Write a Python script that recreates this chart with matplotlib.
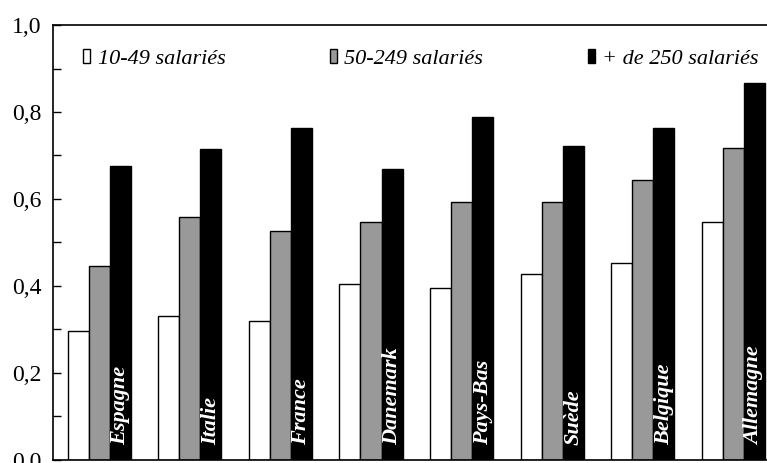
import matplotlib
matplotlib.use("Agg")
import matplotlib.pyplot as plt
import numpy as np
from matplotlib.ticker import MultipleLocator, FuncFormatter

# Data
pays = ['Espagne', 'Italie', 'France', 'Danemark', 'Pays-Bas', 'Suède', 'Belgique', 'Allemagne']
petites = [0.297, 0.332, 0.320, 0.405, 0.395, 0.427, 0.452, 0.548]
moyennes = [0.446, 0.559, 0.527, 0.546, 0.594, 0.594, 0.644, 0.717]
grandes = [0.677, 0.714, 0.764, 0.668, 0.789, 0.722, 0.763, 0.867]
labels = ['10-49 salariés', '50-249 salariés', '+ de 250 salariés']
colors = ['white', '#999999', 'black']

plt.rcParams['font.family'] = ['Liberation Serif', 'DejaVu Serif']

fig = plt.figure(figsize=(7.67, 4.63), dpi=100)
ax = fig.add_axes([0.069, 0.0065, 0.931, 0.9395])

x = np.arange(len(pays))
w = 0.232
series = [petites, moyennes, grandes]
for i, vals in enumerate(series):
    ax.bar(x + (i - 1) * w, vals, width=w, color=colors[i], edgecolor='black',
           linewidth=1.0, label=labels[i])

# Country names inside the black bars
for xi, name in zip(x, pays):
    ax.text(xi + w, 0.035, name, rotation=90, ha='center', va='bottom',
            color='white', fontsize=16, fontweight='bold', fontstyle='italic')

ax.set_ylim(0, 1.0)
ax.set_xlim(-0.51, 7.37)
ax.yaxis.set_major_locator(MultipleLocator(0.2))
ax.yaxis.set_minor_locator(MultipleLocator(0.1))
ax.yaxis.set_major_formatter(FuncFormatter(lambda v, p: ('%.1f' % v).replace('.', ',')))
ax.tick_params(axis='y', which='both', direction='in', length=6, width=1, pad=8, labelsize=17)
ax.tick_params(axis='x', bottom=False, labelbottom=False)
ax.spines['right'].set_visible(False)
for s in ['left', 'top', 'bottom']:
    ax.spines[s].set_linewidth(1.2)

leg = ax.legend(loc='upper left', bbox_to_anchor=(0.042, 0.945), ncol=3, frameon=False,
                borderaxespad=0, borderpad=0, handlelength=0.33, handleheight=0.6,
                handletextpad=0.33, columnspacing=4.7,
                prop={'style': 'italic', 'size': 16})

fig.savefig('out.png', dpi=100)
